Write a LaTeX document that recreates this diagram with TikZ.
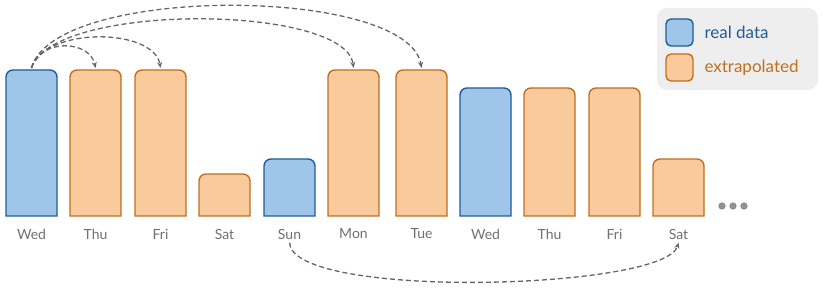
\documentclass[tikz,border=0pt]{standalone}
\usepackage{fontspec}
\setmainfont{Lato}
\usetikzlibrary{arrows.meta}
\definecolor{realRelleno}{HTML}{9FC5E8}
\definecolor{realLinea}{HTML}{1F5C99}
\definecolor{extraRelleno}{HTML}{F9CB9C}
\definecolor{extraLinea}{HTML}{C0701E}
\definecolor{textoGris}{HTML}{707070}
\definecolor{flechaGris}{HTML}{666666}
\definecolor{fondoLeyenda}{HTML}{EEEEEE}

\begin{document}
\begin{tikzpicture}[
        x=1pt, y=-1pt,
        real/.style={draw=realLinea, fill=realRelleno, line width=1.4pt},
        extra/.style={draw=extraLinea, fill=extraRelleno, line width=1.4pt},
        dia/.style={text=textoGris, font=\fontsize{14}{16}\selectfont},
        ley/.style={anchor=west, font=\fontsize{17}{19}\selectfont},
        rel/.style={-{Stealth[length=6pt, width=5pt]}, draw=flechaGris, line width=1.3pt,
            dash pattern=on 5pt off 3pt}
    ]
        \useasboundingbox (0,0) rectangle (830,304);
        % barras
        \foreach \n/\x/\h/\s/\d in {1/6/70/real/Wed, 2/70/70/extra/Thu, 3/135/70/extra/Fri,
            4/199/174/extra/Sat, 5/264/159/real/Sun, 6/328/70/extra/Mon, 7/396/70/extra/Tue,
            8/460/88/real/Wed, 9/524/88/extra/Thu, 10/589/88/extra/Fri, 11/653/159/extra/Sat}{
            \draw[\s] (\x,216) [rounded corners=7pt] -- (\x,\h) -- (\x+51,\h) [sharp corners] -- (\x+51,216) -- cycle;
            \coordinate (b\n) at (\x+25.5,\h);
            \node[dia] (d\n) at (\x+25.5,234) {\d};
        }
        \foreach \x in {722,733,744}
            \fill[fill=gray!85, draw=gray!90!black] (\x,206) circle (3.3pt);
        % flechas
        \draw[rel] ([yshift=2pt]b1) .. controls (40,38) and (90,40) .. ([yshift=2pt]b2);
        \draw[rel] ([yshift=2pt]b1) .. controls (46,26) and (154,28) .. ([yshift=2pt]b3);
        \draw[rel] ([yshift=2pt]b1) .. controls (52,2) and (346,4) .. ([yshift=2pt]b6);
        \draw[rel] ([yshift=2pt]b1) .. controls (54,-16) and (408,-14) .. ([yshift=2pt]b7);
        \draw[rel] (d5.south) .. controls (292,300) and (665,290) .. (d11.south);
        % leyenda
        \fill[fondoLeyenda, rounded corners=10pt] (657,8) rectangle (818,90);
        \draw[real, rounded corners=5pt] (666,19) rectangle (693,46);
        \draw[extra, rounded corners=5pt] (666,54) rectangle (693,81);
        \node[ley, text=realLinea] (lreal) at (701,32) {real data};
        \node[ley, text=extraLinea] (lextra) at (701,68) {extrapolated};
    \end{tikzpicture}
\end{document}
